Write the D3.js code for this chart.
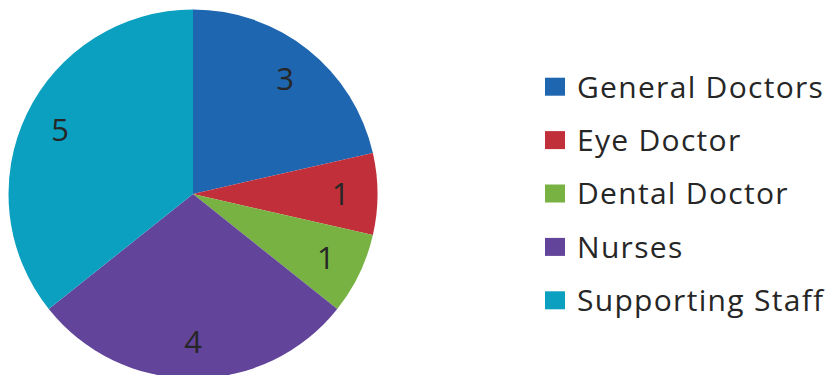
<!DOCTYPE html>
<html><head><meta charset="utf-8">
<script src="https://cdn.jsdelivr.net/npm/d3@7"></script>
<style>html,body{margin:0;padding:0;background:#fff;overflow:hidden}</style>
</head><body>
<svg id="c" width="832" height="375"></svg>
<script>
const categories = ["General Doctors", "Eye Doctor", "Dental Doctor", "Nurses", "Supporting Staff"];
const values = [3, 1, 1, 4, 5];
const colors = ["#1e66b0", "#c1303a", "#78b243", "#62449a", "#0ba0c0"];

const svg = d3.select("#c");
const cx = 193, cy = 194, R = 184.5;
const g = svg.append("g").attr("transform", `translate(${cx},${cy})`);
const pie = d3.pie().sort(null).value(d => d)(values);
const arc = d3.arc().innerRadius(0).outerRadius(R);
const labelArc = d3.arc().innerRadius(R * 0.8).outerRadius(R * 0.8);
const color = d3.scaleOrdinal().domain(categories).range(colors);

g.selectAll("path").data(pie).join("path")
  .attr("d", arc).attr("fill", (d, i) => color(categories[i]));

g.selectAll("text").data(pie).join("text")
  .attr("transform", d => `translate(${labelArc.centroid(d)})`)
  .attr("text-anchor", "middle").attr("dy", "0.36em")
  .attr("font-family", "'Open Sans', sans-serif").attr("font-size", 31)
  .attr("fill", "#262626").text(d => d.data);

const y = d3.scaleBand().domain(categories).range([60, 327]);
const lg = svg.append("g");
const rows = lg.selectAll("g").data(categories).join("g")
  .attr("transform", d => `translate(0,${y(d) + y.bandwidth() / 2})`);
rows.append("rect").attr("x", 545).attr("y", -9).attr("width", 20).attr("height", 18)
  .attr("fill", d => color(d));
rows.append("text").attr("x", 577).attr("dy", "0.36em")
  .attr("font-family", "'Open Sans', sans-serif").attr("font-size", 30)
  .attr("letter-spacing", 1.3)
  .attr("fill", "#262626").text(d => d);
</script>
</body></html>
